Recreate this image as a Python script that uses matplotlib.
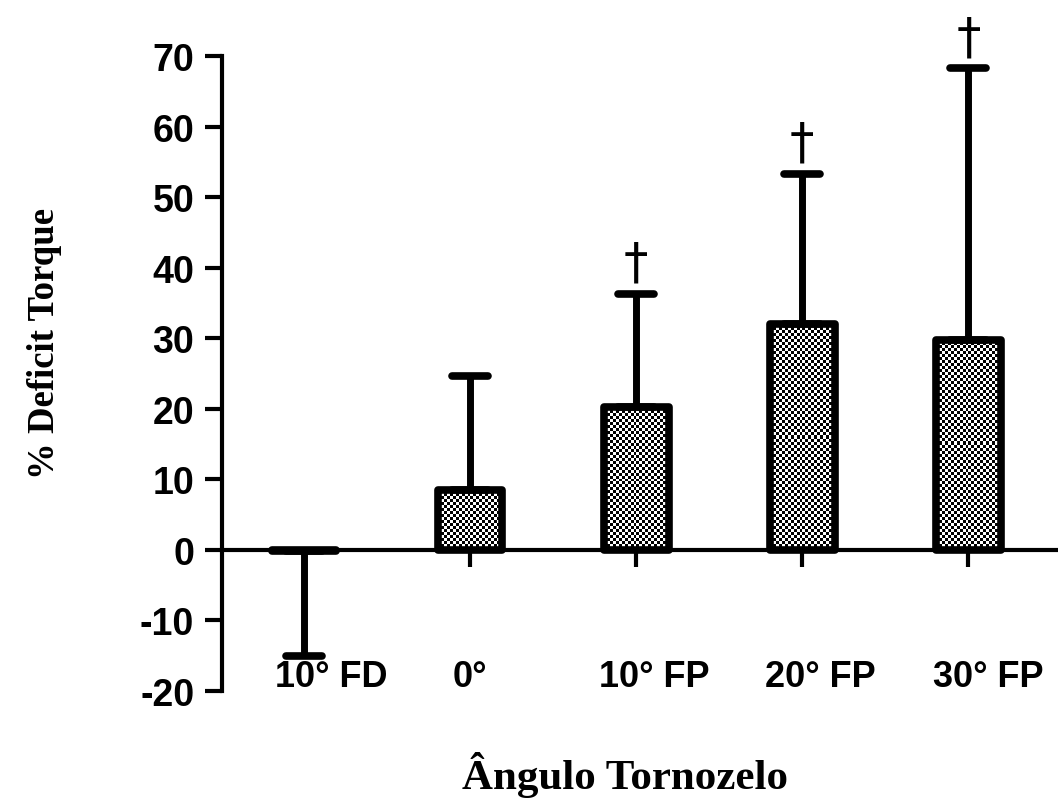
import numpy as np
import matplotlib
matplotlib.use("Agg")
import matplotlib.pyplot as plt
from matplotlib.markers import MarkerStyle

# ---- data ----
categories = ["10° FD", "0°", "10° FP", "20° FP", "30° FP"]
means = [-0.2, 8.5, 20.2, 32.0, 29.8]
errors = [14.8, 16.2, 16.1, 21.3, 38.5]
significance = ["", "", "†", "†", "†"]
yticks = [-20, -10, 0, 10, 20, 30, 40, 50, 60, 70]
xlabel = "Ângulo Tornozelo"
ylabel = "% Deficit Torque"

# ---- layout ----
W, H = 1058, 804
fig = plt.figure(figsize=(W / 100, H / 100), dpi=100)
ax_left, ax_right, ax_top, ax_bot = 222, 1058, 57, 692
ax = fig.add_axes([ax_left / W, 1 - ax_bot / H, (ax_right - ax_left) / W, (ax_bot - ax_top) / H])

x = np.arange(len(categories))
bar_w = 0.39
label_dx = [0.163, 0.0, 0.108, 0.108, 0.12]

ax.set_xlim(-0.494, 4.54)
ax.set_ylim(-20, 70)

# checker fill inside bars
px_per_x = (ax_right - ax_left) / (4.54 + 0.494)
px_per_y = (ax_bot - ax_top) / 90.0
cell = 3.0
for xi, m in zip(x, means):
    if abs(m) < 1:
        continue
    nx = max(1, int(round(bar_w * px_per_x / cell)))
    ny = max(1, int(round(abs(m) * px_per_y / cell)))
    ii, jj = np.indices((ny, nx))
    checker = ((ii + jj) % 2).astype(float)
    ax.imshow(checker, cmap="gray", vmin=0, vmax=1, interpolation="nearest",
              aspect="auto", extent=(xi - bar_w / 2, xi + bar_w / 2, 0, m),
              origin="lower", zorder=2)

ax.bar(x, means, width=bar_w, facecolor="none", edgecolor="black",
       linewidth=5.5, joinstyle="round", zorder=3)

lower = [e if m < 0 else 0 for m, e in zip(means, errors)]
upper = [e if m >= 0 else 0 for m, e in zip(means, errors)]
eb = ax.errorbar(x, means, yerr=[lower, upper], fmt="none", ecolor="black",
                 elinewidth=5, capsize=13, capthick=5.5, zorder=4)
for cl in eb[1]:
    cl.set_marker(MarkerStyle("_", capstyle="round"))

for xi, m, e, s in zip(x, means, errors, significance):
    if s:
        ax.annotate(s, xy=(xi, m + e), xytext=(0, 5), textcoords="offset points",
                    ha="center", va="bottom", fontsize=35,
                    family=["DejaVu Sans"])

# axes styling
for side in ["top", "right"]:
    ax.spines[side].set_visible(False)
ax.spines["left"].set_linewidth(3)
ax.spines["bottom"].set_linewidth(3)
ax.spines["bottom"].set_position(("data", 0))
ax.set_yticks(yticks)
ax.set_yticklabels([str(t) for t in yticks], fontsize=27, fontweight="bold",
                   family="Liberation Sans")
ax.tick_params(axis="y", direction="out", length=12, width=3, pad=8)
ax.set_xticks(x)
ax.set_xticklabels([""] * len(x))
ax.tick_params(axis="x", direction="out", length=12, width=3)
ax.patch.set_visible(False)

for xi, c, dx in zip(x, categories, label_dx):
    ax.text(xi + dx, -17.9, c, ha="center", va="center", fontsize=26,
            fontweight="bold", family="Liberation Sans")

fig.text(625 / W, 1 - 775 / H, xlabel, ha="center", va="center", fontsize=31,
         fontweight="bold", family="Liberation Serif")
fig.text(45 / W, 1 - 343 / H, ylabel, ha="center", va="center", rotation=90,
         fontsize=26.5, fontweight="bold", family="Liberation Serif")

fig.savefig("out.png", dpi=100)
